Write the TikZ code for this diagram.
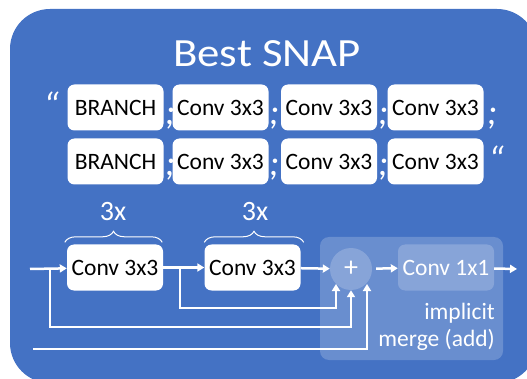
\documentclass[tikz,border=0pt]{standalone}
\usepackage{fontspec}
\setmainfont{Carlito}
\usetikzlibrary{arrows.meta}
\usetikzlibrary{decorations.pathreplacing}
\usetikzlibrary{positioning}
\definecolor{snapblue}{HTML}{4472C4}

\tikzset{
  gene/.style={fill=white, rounded corners=7pt, minimum width=96pt,
    minimum height=46pt, inner sep=0pt, text=black,
    font=\fontsize{23.5}{23.5}\selectfont},
  glue/.style={text=white, anchor=base, inner sep=0pt,
    font=\fontsize{37}{37}\selectfont\itshape},
  flow/.style={draw=white, line width=2.5pt},
  label/.style={text=white, inner sep=0pt, font=\fontsize{23.5}{23.5}\selectfont},
  ghost/.style={fill=white, fill opacity=0.2, text opacity=1}
}

\begin{document}
\begin{tikzpicture}[x=1pt, y=-1pt, >={Triangle[length=7pt,width=8pt]}]
  \useasboundingbox (0,0) rectangle (527,379);
  \fill[snapblue, rounded corners=40pt] (10,9) rectangle (537,383);

  \node[text=white, anchor=base, inner sep=0pt, xscale=1.12,
    font=\fontsize{40}{40}\selectfont] (title) at (267,67) {Best SNAP};

  \node[gene] (br1) at (115.5,107.5) {BRANCH};
  \node[gene] (cv1a) at (220.5,107.5) {Conv 3x3};
  \node[gene] (cv1b) at (329,107.5) {Conv 3x3};
  \node[gene] (cv1c) at (435.5,107.5) {Conv 3x3};

  \node[gene] (br2) at (115.5,161.5) {BRANCH};
  \node[gene] (cv2a) at (220.5,161.5) {Conv 3x3};
  \node[gene] (cv2b) at (329,161.5) {Conv 3x3};
  \node[gene] (cv2c) at (435.5,161.5) {Conv 3x3};

  \node[glue] (open) at (51,119) {“};
  \node[glue] (s1a) at (170,125) {;};
  \node[glue] (s1b) at (274,125) {;};
  \node[glue] (s1c) at (383,125) {;};
  \node[glue] (s1d) at (492,125) {;};
  \node[glue] (s2a) at (170,176) {;};
  \node[glue] (s2b) at (274,176) {;};
  \node[glue] (s2c) at (383,176) {;};
  \node[glue] (close) at (496,173) {“};

  \path[ghost, rounded corners=9pt] (320,237) rectangle (503,360);
  \node[ghost, circle, minimum size=42pt, inner sep=0pt, text=white,
    font=\fontsize{28}{28}\selectfont] (plus) at (351,269) {+};
  \node[ghost, rounded corners=7pt, minimum width=96pt, minimum height=46pt,
    inner sep=0pt, text=white, font=\fontsize{23.5}{23.5}\selectfont]
    (conv1) at (446,267.5) {Conv 1x1};

  \node[gene] (convA) at (115,267.5) {Conv 3x3};
  \node[gene] (convB) at (252.5,267.5) {Conv 3x3};

  \draw[white, line width=1pt, decorate, decoration={brace, amplitude=11pt}]
    ([xshift=-2pt, yshift=2pt]convA.north west) -- ([xshift=-1pt, yshift=2pt]convA.north east);
  \draw[white, line width=1pt, decorate, decoration={brace, amplitude=11pt}]
    ([yshift=2pt]convB.north west) -- ([xshift=3pt, yshift=2pt]convB.north east);
  \node[label, font=\fontsize{28}{28}\selectfont] (rep1) at (113,212) {3x};
  \node[label, font=\fontsize{28}{28}\selectfont] (rep2) at (255,212) {3x};

  \node[label, anchor=base east] (impl) at (495,319) {implicit};
  \node[label, anchor=base east] (merge) at (495,346) {merge (add)};

  \coordinate (in) at (30,269);
  \coordinate (split1) at (50,269);
  \coordinate (bus1) at (351,327);
  \coordinate (split2) at (180,269);
  \coordinate (bus2) at (336,308);
  \coordinate (tip2) at (336,284);
  \coordinate (low) at (33,349);
  \coordinate (bus3) at (367,349);
  \coordinate (tip3) at (367,284);
  \coordinate (out) at (517,269);

  \draw[flow, ->] (in) -- (convA);
  \draw[flow, ->] (convA) -- (convB);
  \draw[flow, ->] (convB) -- (plus);
  \draw[flow, ->] (split1) |- (bus1) -- (plus.south);
  \draw[flow, ->] (split2) |- (bus2) -- (tip2);
  \draw[flow, ->] (low) -- (bus3) -- (tip3);
  \draw[flow, ->, shorten <=4pt] (plus) -- (conv1);
  \draw[flow, ->] (conv1) -- (out);
\end{tikzpicture}
\end{document}
